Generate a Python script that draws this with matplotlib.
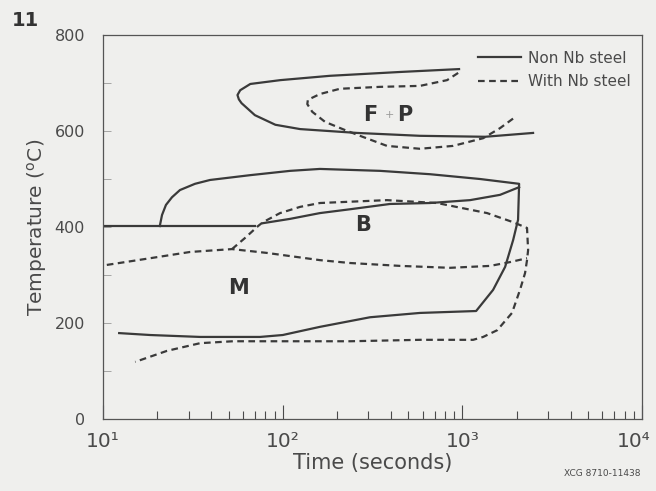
import matplotlib
matplotlib.use('Agg')
import matplotlib.pyplot as plt
import matplotlib.transforms as mtransforms
import numpy as np

# CCT diagram: time (s) vs temperature (C)
# non Nb steel (solid)
fp_t = [957, 450, 183, 97, 66, 58, 56, 57, 59, 70, 91, 125, 259, 580, 1336, 2470]
fp_T = [729, 723, 715, 706, 698, 685, 675, 666, 658, 633, 613, 604, 596, 590, 588, 596]

bs_t = [10, 70]
bs_T = [402, 402]

b_t = [20.7, 21.3, 22.4, 24.2, 26.8, 32.5, 39.4, 65.8, 110, 161, 348, 660, 1253, 2066,
       2038, 1914, 1727, 1480, 1191, 580, 306, 161, 125, 100, 74.8, 34.7, 18.3, 12.3]
b_T = [402, 425, 446, 462, 477, 490, 498, 508, 517, 521, 517, 510, 500, 490,
       415, 373, 317, 269, 225, 221, 212, 192, 183, 175, 171, 171, 175, 179]

bin_t = [77.6, 110, 161, 237, 395, 660, 1102, 1618, 2066]
bin_T = [408, 417, 429, 437, 448, 450, 456, 467, 483]

# with Nb steel (dashed)
fpnb_t = [946, 821, 580, 348, 208, 161, 138, 137, 146, 172, 222, 269, 380, 580, 887, 1303, 1618, 1963]
fpnb_T = [721, 706, 694, 692, 688, 677, 665, 656, 640, 619, 602, 590, 569, 563, 569, 585, 606, 629]

bnb_t = [52.2, 61.6, 72.9, 77.6, 96.6, 125, 161, 380, 722, 1371, 1914, 2286, 2318, 2286,
         2229, 2089, 1886, 1560, 1303, 1146, 580, 237, 52.8, 34.7, 22.7, 15.1]
bnb_T = [354, 377, 402, 410, 429, 442, 450, 456, 450, 429, 410, 398, 352, 331,
         304, 269, 221, 185, 171, 165, 165, 162, 162, 158, 142, 119]

ms_t = [10.5, 18.3, 30.5, 52.2, 81.8, 161, 237, 450, 853, 1426, 1841, 2286]
ms_T = [321, 335, 348, 354, 346, 331, 325, 319, 315, 319, 327, 335]

bg = '#efefed'
lc = '#3a3a3a'
tc = '#4a4a4a'
dash = (0, (3, 2))

fig = plt.figure(figsize=(6.56, 4.91), dpi=100, facecolor=bg)
ax = fig.add_axes([0.157, 0.1466, 0.822, 0.7821], facecolor=bg)

ax.plot(fp_t, fp_T, color=lc, lw=1.6, label='Non Nb steel')
ax.plot(bs_t, bs_T, color=lc, lw=1.6)
ax.plot(b_t, b_T, color=lc, lw=1.6)
ax.plot(bin_t, bin_T, color=lc, lw=1.6)

ax.plot(fpnb_t, fpnb_T, color=lc, lw=1.6, ls=dash, label='With Nb steel')
ax.plot(bnb_t, bnb_T, color=lc, lw=1.6, ls=dash)
ax.plot(ms_t, ms_T, color=lc, lw=1.6, ls=dash)

ax.set_xscale('log')
ax.set_xlim(10, 1e4)
ax.set_ylim(0, 800)
ax.set_yticks([0, 200, 400, 600, 800])
ax.set_yticks([100, 300, 500, 700], minor=True)
ax.set_xticks([10, 100, 1000, 10000])
ax.set_xticklabels(['10¹', '10²', '10³', '10⁴'])

ax.tick_params(axis='x', which='major', direction='in', length=10, width=0.8, color=tc,
               labelsize=14.5, labelcolor=tc, pad=9)
ax.tick_params(axis='x', which='minor', direction='in', length=6, width=0.8, color=tc)
ax.tick_params(axis='y', which='both', direction='in', length=6, width=0.6, color='#999999',
               labelsize=11.5, labelcolor=tc, pad=13)
for s in ax.spines.values():
    s.set_color('#555555')
    s.set_linewidth(0.9)

# pull the last tick label in so it stays on the page
lab = ax.get_xticklabels()[-1]
lab.set_transform(lab.get_transform() + mtransforms.ScaledTranslation(-6 / 72, 0, fig.dpi_scale_trans))

ax.set_xlabel('Time (seconds)', fontsize=15, color=tc, labelpad=2)
ax.set_ylabel('Temperature ($^{\\rm o}$C)', fontsize=14.5, color=tc, labelpad=4)

# phase labels
ax.text(306, 633, 'F', fontsize=15, fontweight='bold', color='#333333', ha='center', va='center')
ax.text(391, 633, '+', fontsize=8, color='#999999', ha='center', va='center')
ax.text(480, 633, 'P', fontsize=15, fontweight='bold', color='#333333', ha='center', va='center')
ax.text(280, 404, 'B', fontsize=15, fontweight='bold', color='#333333', ha='center', va='center')
ax.text(56.4, 273, 'M', fontsize=15, fontweight='bold', color='#333333', ha='center', va='center')

ax.legend(loc='upper right', bbox_to_anchor=(1.005, 0.995), frameon=False, fontsize=11,
          handlelength=2.8, handletextpad=0.5, labelspacing=0.55, labelcolor=tc)

fig.text(0.018, 0.958, '11', fontsize=14, fontweight='bold', color='#333333', va='center')
fig.text(0.977, 0.035, 'XCG 8710-11438', fontsize=6.5, color=tc, ha='right', va='center')

plt.savefig('out.png', dpi=100, facecolor=bg)
